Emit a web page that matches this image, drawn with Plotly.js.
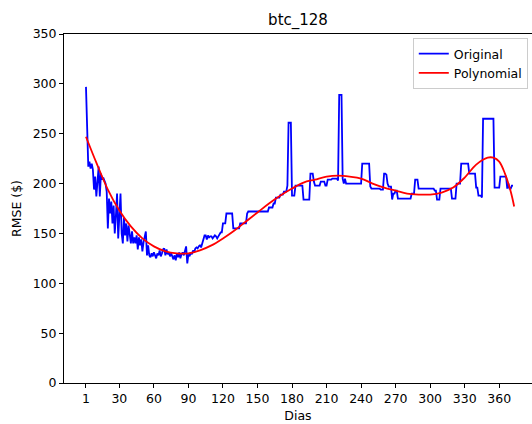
<!DOCTYPE html>
<html>
<head>
<meta charset="utf-8">
<script src="https://cdn.plot.ly/plotly-3.0.1.min.js"></script>
<style>html,body{margin:0;padding:0;background:#fff;}#chart{width:532px;height:424px;}</style>
</head>
<body>
<div id="chart"></div>
<script>
// Original RMSE values, one per day (day 1 .. 372)
const originalValues = [
297,240,217,222,215,220,214,194,207,187,
200,217,187,210,204,206,203,200,192,155,
185,170,182,160,178,150,168,190,145,162,
190,150,140,166,148,160,142,158,150,140,
152,140,146,140,148,134,146,138,144,132,
141,147,152,128,138,128,126,130,127,131,
128,125,130,128,133,127,130,134,135,128,
134,129,131,127,130,126,124,128,123,130,
126,131,125,129,131,128,134,137,120,129,
127,131,129,133,131,135,136,135,137,138,
136,140,144,148,148,144,148,146,147,147,
145,147,148,147,145,147,150,151,151,160,
160,160,170,170,170,170,170,170,155,155,
155,155,155,155,160,160,160,160,160,160,
170,172,172,172,172,172,172,172,172,172,
172,172,172,172,172,172,172,172,172,176,
176,176,176,180,180,186,186,186,186,189,
189,189,192,192,192,198,261,261,261,188,
188,188,198,198,198,198,198,198,198,184,
184,184,184,184,184,210,210,210,202,198,
198,198,198,198,202,202,202,202,198,198,
204,204,204,204,205,205,205,205,205,203,
289,289,289,205,200,205,200,200,200,200,
200,200,200,200,200,200,200,200,200,200,
220,220,220,220,220,220,220,197,195,195,
195,195,195,195,195,195,194,194,194,210,
210,209,200,197,197,197,184,190,190,193,
193,185,185,185,185,185,185,185,185,185,
185,185,185,190,190,190,204,204,204,195,
195,195,195,195,195,195,195,195,195,195,
195,195,195,193,193,184,184,184,195,195,
195,195,195,195,195,195,195,195,185,185,
185,185,200,200,200,200,220,220,220,220,
220,220,220,210,210,210,210,210,210,196,
196,188,188,188,186,265,265,265,265,265,
265,265,265,265,265,196,196,196,196,196,
207,207,207,207,207,207,195,200,195,195,
198,198
];
const originalDays = originalValues.map((_, i) => i + 1);

// Polynomial fit, read at sample days
const polyDays = [1,10,20,30,40,50,60,70,80,90,100,110,120,130,140,150,160,170,180,190,200,210,220,230,240,250,260,270,280,290,300,310,320,330,340,350,355,360,365,370,373];
const polyValues = [247,221,194,173,157,145,137,132,130,130,133,138,145,153,162,171,180,188,195,201,204,207,208,207,205,200,196,193,190,189,189,191,196,206,219,226,226,222,210,192,177];

const xTicks = [1,30,60,90,120,150,180,210,240,270,300,330,360];
const yTicks = [0,50,100,150,200,250,300,350];

const font = {family: 'DejaVu Sans, sans-serif', size: 12.5, color: '#000'};

const traces = [
  {x: originalDays, y: originalValues, type: 'scatter', mode: 'lines', name: 'Original',
   line: {color: '#0000ff', width: 1.8}},
  {x: polyDays, y: polyValues, type: 'scatter', mode: 'lines', name: 'Polynomial',
   line: {color: '#ff0000', width: 1.8, shape: 'spline', smoothing: 1}}
];

const layout = {
  width: 532, height: 424,
  margin: {l: 64, r: 0, t: 34, b: 41, pad: 0},
  paper_bgcolor: '#fff', plot_bgcolor: '#fff',
  font: font,
  title: {text: 'btc_128', font: {family: 'DejaVu Sans, sans-serif', size: 15, color: '#000'},
          x: 0.5, xref: 'paper', xanchor: 'center', y: 0.953, yref: 'container', yanchor: 'middle'},
  xaxis: {range: [-18.1, 388.5], tickvals: xTicks, ticktext: xTicks.map(String),
          showgrid: false, zeroline: false, showline: true, linecolor: '#000', linewidth: 1,
          mirror: true, ticks: 'outside', ticklen: 4, tickcolor: '#000', tickwidth: 1,
          tickfont: font,
          title: {text: 'Dias', font: font, standoff: 6}},
  yaxis: {range: [0, 350], tickvals: yTicks, ticktext: yTicks.map(String),
          showgrid: false, zeroline: false, showline: true, linecolor: '#000', linewidth: 1,
          ticks: 'outside', ticklen: 4, tickcolor: '#000', tickwidth: 1,
          tickfont: font,
          title: {text: 'RMSE ($)', font: font, standoff: 8}},
  showlegend: true,
  legend: {x: 0.991, xanchor: 'right', y: 0.9885, yanchor: 'top',
           bgcolor: 'rgba(255,255,255,0.8)', bordercolor: '#cccccc', borderwidth: 1,
           font: font, itemwidth: 30, tracegroupgap: 2}
};

Plotly.newPlot('chart', traces, layout, {displayModeBar: false, staticPlot: true});
</script>
</body>
</html>
